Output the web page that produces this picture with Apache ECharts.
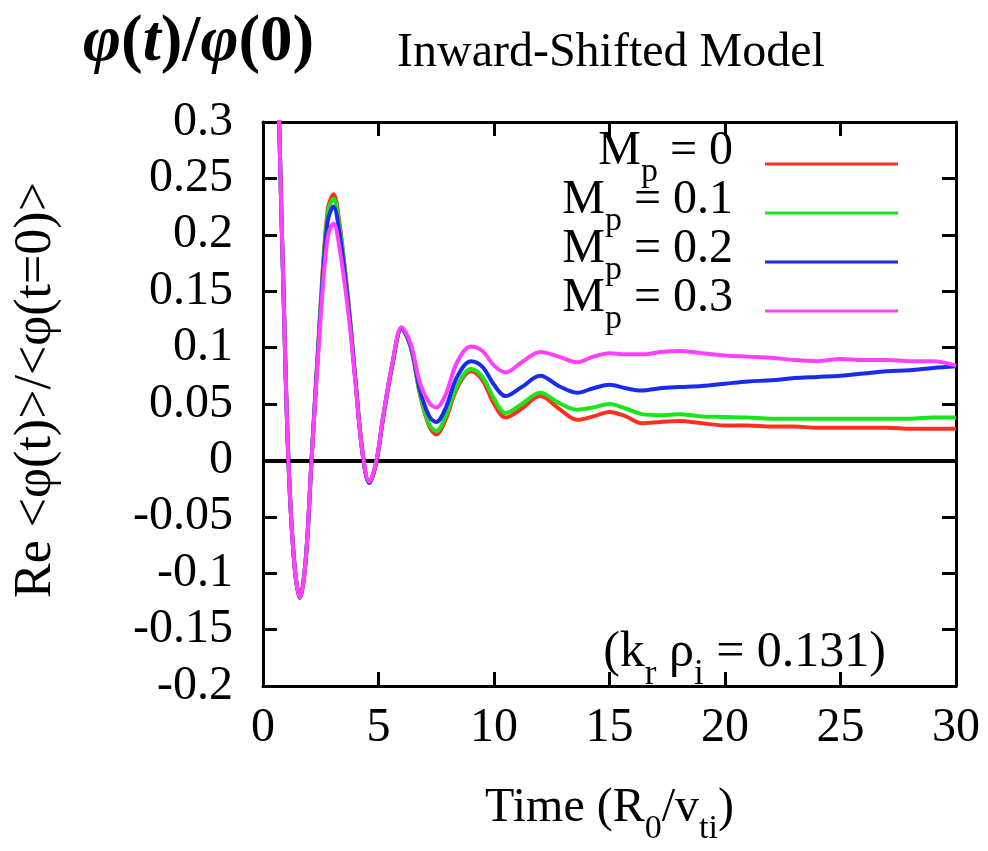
<!DOCTYPE html>
<html>
<head>
<meta charset="utf-8">
<script src="https://cdn.jsdelivr.net/npm/echarts@6/dist/echarts.min.js"></script>
<style>
  html, body { margin: 0; padding: 0; overflow: hidden; background: #fff; }
  #chart { width: 988px; height: 851px; }
</style>
</head>
<body>
<div id="chart"></div>
<script>
// time (R0/vti)
const times = [0, 0.35, 0.7, 0.9, 1.1, 1.35, 1.6, 1.85, 2.1, 2.5, 2.8, 3.05, 3.3, 3.7, 4.0, 4.3, 4.6, 4.9, 5.2, 5.6,
  6.0, 6.4, 6.8, 7.2, 7.5, 7.9, 8.4, 9.0, 9.5, 10.0, 10.5, 11.2, 12.0, 12.8, 13.6, 14.3, 15.0, 15.7, 16.4, 17.2,
  18.0, 19, 20, 21, 22, 23, 24, 25, 26, 27, 28, 29, 30]

const mp0 = [1.0, 0.65, 0.3, 0.14, 0.0, -0.09, -0.122, -0.088, 0.0, 0.14, 0.222, 0.236, 0.212, 0.14, 0.072, 0.008, -0.02, -0.002, 0.038, 0.085,
  0.117, 0.1, 0.058, 0.030, 0.023, 0.036, 0.064, 0.079, 0.071, 0.050, 0.038, 0.046, 0.057, 0.046, 0.036, 0.039, 0.043, 0.039, 0.033, 0.034,
  0.035, 0.033, 0.031, 0.031, 0.030, 0.030, 0.029, 0.029, 0.029, 0.029, 0.028, 0.028, 0.028]
const mp01 = [1.0, 0.65, 0.3, 0.14, 0.0, -0.09, -0.122, -0.088, 0.0, 0.138, 0.219, 0.232, 0.209, 0.139, 0.072, 0.008, -0.02, -0.002, 0.038, 0.085,
  0.117, 0.1, 0.059, 0.032, 0.026, 0.039, 0.066, 0.081, 0.074, 0.055, 0.042, 0.050, 0.060, 0.051, 0.045, 0.047, 0.050, 0.046, 0.041, 0.040,
  0.041, 0.039, 0.0385, 0.038, 0.037, 0.037, 0.037, 0.037, 0.037, 0.037, 0.037, 0.038, 0.038]
const mp02 = [1.0, 0.65, 0.3, 0.14, 0.0, -0.09, -0.122, -0.088, 0.0, 0.134, 0.212, 0.225, 0.203, 0.136, 0.071, 0.008, -0.02, -0.002, 0.038, 0.085,
  0.117, 0.101, 0.062, 0.039, 0.034, 0.046, 0.074, 0.088, 0.083, 0.067, 0.057, 0.065, 0.075, 0.066, 0.060, 0.064, 0.067, 0.064, 0.062, 0.064,
  0.065, 0.066, 0.068, 0.070, 0.071, 0.073, 0.074, 0.075, 0.077, 0.079, 0.080, 0.082, 0.0835]
const mp03 = [1.0, 0.65, 0.3, 0.14, 0.0, -0.09, -0.122, -0.088, 0.0, 0.128, 0.198, 0.21, 0.19, 0.13, 0.069, 0.008, -0.019, -0.001, 0.039, 0.086,
  0.118, 0.103, 0.068, 0.051, 0.047, 0.058, 0.087, 0.101, 0.097, 0.084, 0.078, 0.087, 0.096, 0.092, 0.087, 0.092, 0.095, 0.094, 0.094, 0.096,
  0.097, 0.095, 0.093, 0.092, 0.091, 0.089, 0.088, 0.090, 0.089, 0.089, 0.088, 0.088, 0.084]

const names = ['Mp = 0', 'Mp = 0.1', 'Mp = 0.2', 'Mp = 0.3']
// same labels with the p as subscript
const legendLabels = ['{m|M}{s|p}{m| = 0}', '{m|M}{s|p}{m| = 0.1}', '{m|M}{s|p}{m| = 0.2}', '{m|M}{s|p}{m| = 0.3}']
const colors = ['#ff3020', '#19e619', '#1a2af0', '#ff40ff']
const seriesValues = [mp0, mp01, mp02, mp03]

const serif = "'Liberation Serif', 'Times New Roman', serif"
const fs = 48
// rich styles: normal text and subscript
const makeRich = (size) => ({
  m: { fontFamily: serif, fontSize: size, color: '#000', verticalAlign: 'top', padding: [0, 0, 26, 0] },
  s: { fontFamily: serif, fontSize: Math.round(size * 0.7), color: '#000', verticalAlign: 'bottom', padding: [0, 0, 12, 0] },
  g: { width: 27 }
})
const rich = makeRich(fs)

const tickAxis = (pos, show) => ({
  position: pos,
  axisLine: { show: true, onZero: false, lineStyle: { color: '#000', width: 3 } },
  axisTick: { show: true, inside: true, length: 14, lineStyle: { color: '#000', width: 3 } },
  splitLine: { show: false },
  axisLabel: { show: show, fontFamily: serif, fontSize: fs, color: '#000' }
})

const option = {
  backgroundColor: '#fff',
  animation: false,
  title: [
    {
      text: '{i|φ}{b|(}{i|t}{b|)/}{i|φ}{b|(0)}',
      left: 78,
      top: 6,
      textStyle: {
        rich: {
          i: { fontFamily: serif, fontSize: 65, fontWeight: 'bold', fontStyle: 'italic', color: '#000' },
          b: { fontFamily: serif, fontSize: 65, fontWeight: 'bold', color: '#000' }
        }
      }
    },
    {
      text: 'Inward-Shifted Model',
      left: 392,
      top: 24,
      textStyle: { fontFamily: serif, fontSize: 48, fontWeight: 'normal', color: '#000' }
    }
  ],
  legend: {
    data: names,
    orient: 'vertical',
    align: 'right',
    right: 90,
    top: 127,
    padding: 0,
    itemGap: -13,
    itemWidth: 133,
    itemHeight: 3,
    icon: 'rect',
    formatter: (name) => legendLabels[names.indexOf(name)] + '{g|}',
    textStyle: { rich: rich }
  },
  grid: { left: 263, width: 693, top: 122, height: 581, containLabel: false },
  xAxis: [
    Object.assign({
      type: 'value',
      min: 0,
      max: 30,
      interval: 5,
      name: '{m|Time (R}{s|0}{m|/v}{s|ti}{m|)}',
      nameLocation: 'middle',
      nameGap: 98,
      nameTextStyle: { rich: rich }
    }, tickAxis('bottom', true), { axisLabel: { fontFamily: serif, fontSize: fs, color: '#000', margin: 18 } }),
    Object.assign({ type: 'value', min: 0, max: 30, interval: 5 }, tickAxis('top', false))
  ],
  yAxis: [
    Object.assign({ type: 'value', min: -0.2, max: 0.3, interval: 0.05 },
      tickAxis('left', true), { axisLabel: { fontFamily: serif, fontSize: fs, color: '#000', margin: 30 } }),
    Object.assign({ type: 'value', min: -0.2, max: 0.3, interval: 0.05 }, tickAxis('right', false))
  ],
  graphic: [
    {
      // y axis title
      type: 'text',
      x: 36,
      y: 390,
      rotation: Math.PI / 2,
      style: {
        text: 'Re <φ(t)>/<φ(t=0)>',
        fontFamily: serif,
        fontSize: 52,
        fill: '#000',
        textAlign: 'center',
        textVerticalAlign: 'middle'
      }
    },
    {
      type: 'text',
      right: 988 - 886,
      top: 628,
      style: { text: '{m|(k}{s|r}{m| ρ}{s|i}{m| = 0.131)}', rich: makeRich(50) }
    }
  ],
  series: seriesValues.map((vals, k) => ({
    name: names[k],
    type: 'line',
    data: times.map((t, i) => [t, vals[i]]),
    smooth: 0.35,
    showSymbol: false,
    symbol: 'none',
    clip: true,
    z: 2 + k,
    lineStyle: { color: colors[k], width: 4 },
    itemStyle: { color: colors[k] }
  })).concat([{
    // zero line
    type: 'line',
    data: [],
    z: 10,
    markLine: {
      silent: true,
      symbol: 'none',
      label: { show: false },
      lineStyle: { color: '#000', width: 4, type: 'solid' },
      data: [{ yAxis: 0 }]
    }
  }])
}

const myChart = echarts.init(document.getElementById('chart'))
myChart.setOption(option)
</script>
</body>
</html>
